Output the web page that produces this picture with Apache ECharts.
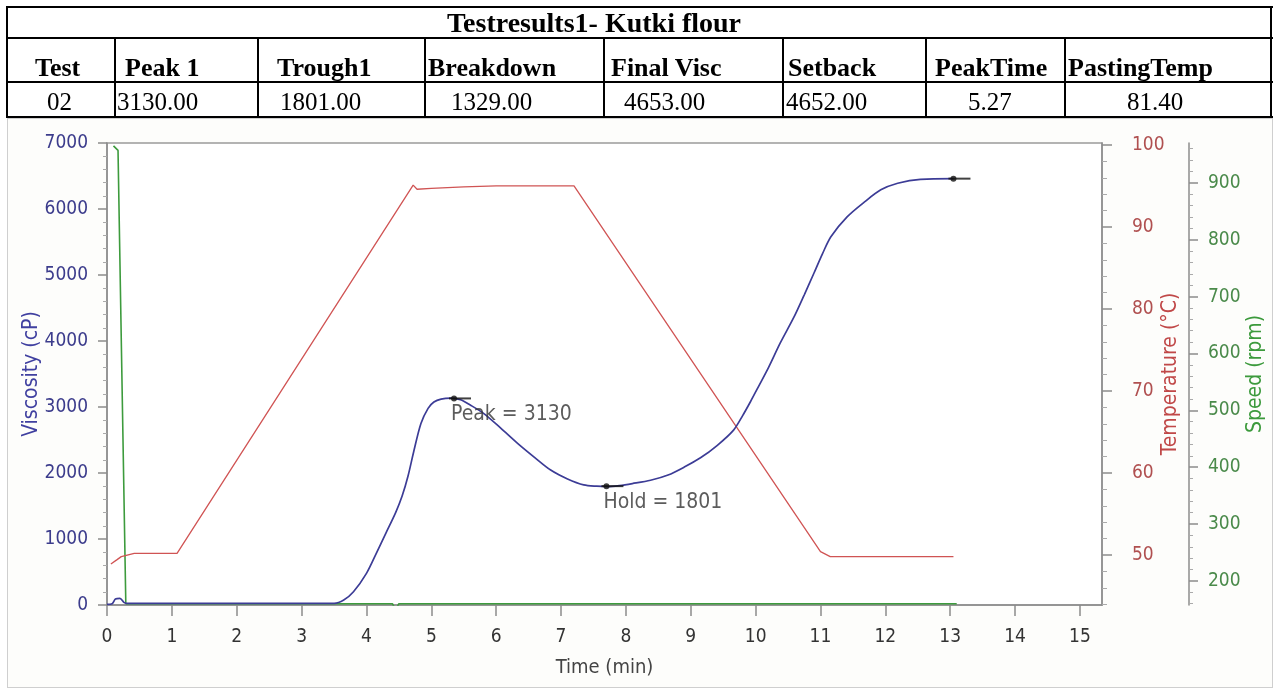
<!DOCTYPE html>
<html>
<head>
<meta charset="utf-8">
<script src="https://cdn.jsdelivr.net/npm/echarts@6/dist/echarts.min.js"></script>
<style>
html,body{margin:0;padding:0;background:#fff;width:1276px;height:691px;overflow:hidden;}
#panel{position:absolute;left:7px;top:118px;width:1264px;height:568px;border:1px solid #cfcfcf;background:#fdfdfb;}
#chart{position:absolute;left:0;top:0;width:1276px;height:691px;}
#tbl{position:absolute;left:0;top:0;width:1276px;height:120px;}
.hl{position:absolute;height:2px;background:#000;}
.vl{position:absolute;width:2px;background:#000;}
.tx{position:absolute;font-family:'Liberation Serif','Times New Roman',serif;line-height:1;white-space:nowrap;color:#000;}
</style>
</head>
<body>
<div id="panel"></div>
<div id="chart"></div>
<div id="tbl"></div>
<script>
// ---------- data ----------
const tableTitle = 'Testresults1- Kutki flour';
const tableHeaders = ['Test', 'Peak 1', 'Trough1', 'Breakdown', 'Final Visc', 'Setback', 'PeakTime', 'PastingTemp'];
const tableValues = ['02', '3130.00', '1801.00', '1329.00', '4653.00', '4652.00', '5.27', '81.40'];

const xTicks = [0, 1, 2, 3, 4, 5, 6, 7, 8, 9, 10, 11, 12, 13, 14, 15];
const tempTicks = [50, 60, 70, 80, 90, 100];
const speedTicks = [200, 300, 400, 500, 600, 700, 800, 900];

const viscosityTime = [0, 0.08, 0.13, 0.2, 0.26, 0.3, 1, 2, 3, 3.5, 3.65, 3.8, 4.0, 4.15, 4.3, 4.45, 4.55, 4.64, 4.73, 4.84, 4.95, 5.04, 5.15, 5.3, 5.45, 5.6, 5.81, 6.07, 6.33, 6.6, 6.84, 7.1, 7.35, 7.55, 7.72, 7.9, 8.1, 8.38, 8.65, 8.9, 9.15, 9.41, 9.66, 9.8, 9.92, 10.05, 10.2, 10.38, 10.59, 10.75, 10.9, 11.03, 11.16, 11.41, 11.67, 11.93, 12.19, 12.54, 13.05];
const viscosityCp = [10, 20, 90, 100, 40, 25, 25, 25, 25, 25, 75, 200, 480, 780, 1090, 1400, 1650, 1950, 2330, 2750, 2980, 3075, 3120, 3135, 3110, 3030, 2900, 2680, 2450, 2230, 2045, 1910, 1820, 1800, 1795, 1810, 1840, 1890, 1970, 2090, 2230, 2420, 2650, 2870, 3080, 3320, 3600, 3970, 4360, 4700, 5030, 5320, 5580, 5880, 6100, 6290, 6390, 6450, 6460];

const temperatureTime = [0.06, 0.15, 0.22, 0.42, 1.08, 4.72, 4.78, 5.0, 5.5, 6.0, 7.2, 11.0, 11.15, 13.05];
const temperatureC = [48.9, 49.4, 49.8, 50.2, 50.2, 95.1, 94.6, 94.7, 94.9, 95.0, 95.0, 50.4, 49.8, 49.8];

const speedTime = [0.1, 0.17, 0.29, 4.4, 4.45, 4.5, 13.1];
const speedRpm = [965, 957, 160, 160, 150, 160, 160];

const markerTime = [5.35, 7.7, 13.05];
const markerCp = [3130, 1801, 6460];
const markerText = ['Peak = 3130', 'Hold = 1801', ''];

// ---------- table layout ----------
const colLines = [7, 115, 258, 425, 604, 783, 926, 1065, 1271];
const rowLines = [7, 38, 82, 117];
const headerPad = [28, 10, 19, 3, 7, 5, 9, 3];
const valuePad = [40, 2, 22, 26, 20, 3, 42, 62];

const tbl = document.getElementById('tbl');
function add(cls, css, text) {
  const d = document.createElement('div');
  d.className = cls;
  Object.assign(d.style, css);
  if (text !== undefined) d.textContent = text;
  tbl.appendChild(d);
}
rowLines.forEach(y => add('hl', {left: '6px', top: (y - 1) + 'px', width: '1267px'}));
colLines.forEach((x, i) => {
  const top = (i === 0 || i === colLines.length - 1) ? rowLines[0] - 1 : rowLines[1] - 1;
  add('vl', {left: (x - 1) + 'px', top: top + 'px', height: (rowLines[3] + 1 - top) + 'px'});
});
add('tx', {left: '447px', top: (32 - 0.8375 * 28) + 'px', fontSize: '28px', fontWeight: 'bold'}, tableTitle);
tableHeaders.forEach((h, i) => add('tx', {left: (colLines[i] + headerPad[i]) + 'px', top: (77 - 0.8375 * 26) + 'px', fontSize: '26px', fontWeight: 'bold'}, h));
tableValues.forEach((v, i) => add('tx', {left: (colLines[i] + valuePad[i]) + 'px', top: (110 - 0.8375 * 25) + 'px', fontSize: '25px'}, v));

// ---------- chart ----------
const zip = (a, b) => a.map((v, i) => [v, b[i]]);
const FONT = "'DejaVu Sans Condensed','DejaVu Sans',sans-serif";
const axisGray = '#8c8c8c';
const plain = v => String(v);

const chart = echarts.init(document.getElementById('chart'), null, {renderer: 'canvas'});
chart.setOption({
  animation: false,
  backgroundColor: 'transparent',
  grid: {left: 107, top: 143, width: 995, height: 462, show: true, backgroundColor: '#ffffff', borderColor: '#9a9a9a', borderWidth: 1.5},
  xAxis: {
    type: 'value', min: 0, max: 15.34,
    name: 'Time (min)', nameLocation: 'middle', nameGap: 53, nameMoveOverlap: false,
    nameTextStyle: {color: '#444', fontSize: 20, fontFamily: FONT},
    axisLine: {show: true, lineStyle: {color: axisGray, width: 1.5}},
    axisTick: {show: true, customValues: xTicks, length: 11, lineStyle: {color: axisGray, width: 1.5}},
    axisLabel: {customValues: xTicks, margin: 23, color: '#333', fontSize: 19, fontFamily: FONT, formatter: plain},
    splitLine: {show: false}
  },
  yAxis: [
    {
      type: 'value', min: 0, max: 7000, interval: 1000, position: 'left',
      name: 'Viscosity (cP)', nameLocation: 'middle', nameGap: 65, nameMoveOverlap: false,
      nameTextStyle: {color: '#4040a0', fontSize: 21, fontFamily: FONT},
      axisLine: {show: true, lineStyle: {color: axisGray, width: 1.5}},
      axisTick: {show: true, length: 9, lineStyle: {color: axisGray, width: 1.5}},
      minorTick: {show: true, splitNumber: 5, length: 4, lineStyle: {color: '#aaa'}},
      axisLabel: {margin: 19, color: '#3c3c8c', fontSize: 19, fontFamily: FONT, formatter: plain},
      splitLine: {show: false}
    },
    {
      type: 'value', min: 43.9, max: 100.24, position: 'right',
      name: 'Temperature (°C)', nameLocation: 'middle', nameGap: 58, nameMoveOverlap: false,
      nameTextStyle: {color: '#c04848', fontSize: 21, fontFamily: FONT},
      axisLine: {show: true, lineStyle: {color: axisGray, width: 1.5}},
      axisTick: {show: true, customValues: tempTicks, length: 10, lineStyle: {color: axisGray, width: 1.5}},
      minorTick: {show: true, splitNumber: 5, length: 5, lineStyle: {color: '#aaa'}},
      axisLabel: {customValues: tempTicks, margin: 30, color: '#b05050', fontSize: 19, fontFamily: FONT, formatter: plain},
      splitLine: {show: false}
    },
    {
      type: 'value', min: 157.8, max: 970, splitNumber: 8, position: 'right', offset: 87,
      name: 'Speed (rpm)', nameLocation: 'middle', nameGap: 56, nameMoveOverlap: false,
      nameTextStyle: {color: '#3c9a3c', fontSize: 21, fontFamily: FONT},
      axisLine: {show: true, lineStyle: {color: axisGray, width: 1.5}},
      axisTick: {show: true, customValues: speedTicks, length: 9, lineStyle: {color: axisGray, width: 1.5}},
      minorTick: {show: true, splitNumber: 5, length: 4, lineStyle: {color: '#aaa'}},
      axisLabel: {customValues: speedTicks, margin: 19, color: '#4a8a4a', fontSize: 19, fontFamily: FONT, formatter: plain},
      splitLine: {show: false}
    }
  ],
  series: [
    {type: 'line', name: 'Speed', yAxisIndex: 2, showSymbol: false, data: zip(speedTime, speedRpm),
     lineStyle: {color: '#3d9b3d', width: 1.6}, z: 2},
    {type: 'line', name: 'Temperature', yAxisIndex: 1, showSymbol: false, data: zip(temperatureTime, temperatureC),
     lineStyle: {color: '#d05454', width: 1.3}, z: 3},
    {type: 'line', name: 'Viscosity', yAxisIndex: 0, showSymbol: false, smooth: 0.3, data: zip(viscosityTime, viscosityCp),
     lineStyle: {color: '#3c3c96', width: 1.7}, z: 4},
    {type: 'scatter', yAxisIndex: 0, symbol: 'rect', symbolSize: [22, 2], symbolOffset: [6, 0],
     itemStyle: {color: '#111'}, data: zip(markerTime, markerCp), z: 5, silent: true},
    {type: 'scatter', yAxisIndex: 0, symbol: 'circle', symbolSize: 6,
     itemStyle: {color: '#111'}, z: 6, silent: true,
     data: zip(markerTime, markerCp).map((p, i) => ({value: p, label: {formatter: markerText[i]}})),
     label: {show: true, position: [0, 9], align: 'left', verticalAlign: 'top', color: '#333', fontSize: 21, fontFamily: FONT}}
  ]
});
</script>
</body>
</html>
